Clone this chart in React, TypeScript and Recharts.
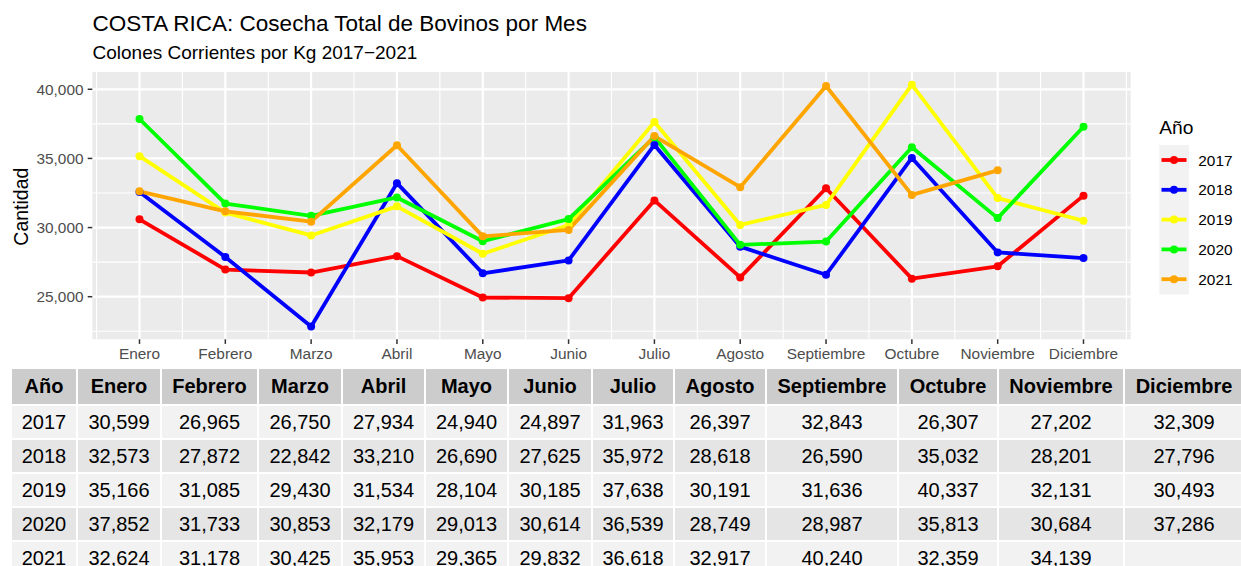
import React from 'react';
import { LineChart, Line, XAxis, YAxis, CartesianGrid, Legend, Label } from 'recharts';

const MONTHS = ['Enero', 'Febrero', 'Marzo', 'Abril', 'Mayo', 'Junio', 'Julio', 'Agosto', 'Septiembre', 'Octubre', 'Noviembre', 'Diciembre'];
const YEARS = ['2017', '2018', '2019', '2020', '2021'];
const V2017 = [30599, 26965, 26750, 27934, 24940, 24897, 31963, 26397, 32843, 26307, 27202, 32309];
const V2018 = [32573, 27872, 22842, 33210, 26690, 27625, 35972, 28618, 26590, 35032, 28201, 27796];
const V2019 = [35166, 31085, 29430, 31534, 28104, 30185, 37638, 30191, 31636, 40337, 32131, 30493];
const V2020 = [37852, 31733, 30853, 32179, 29013, 30614, 36539, 28749, 28987, 35813, 30684, 37286];
const V2021 = [32624, 31178, 30425, 35953, 29365, 29832, 36618, 32917, 40240, 32359, 34139, null];
const COLORS = ['#FF0000', '#0000FF', '#FFFF00', '#00FF00', '#FFA500'];
const Y_TICKS = [25000, 30000, 35000, 40000];
const Y_MINOR = [22500, 27500, 32500, 37500];
const TITLE = 'COSTA RICA: Cosecha Total de Bovinos por Mes';
const SUBTITLE = 'Colones Corrientes por Kg 2017\u22122021';

const VALUES = [V2017, V2018, V2019, V2020, V2021];
const SERIES = YEARS.map((y, i) => ({ key: 'y' + y, name: y, color: COLORS[i], values: VALUES[i] }));

const chartData = MONTHS.map((m, i) => {
  const row: any = { idx: i, mes: m };
  SERIES.forEach((s) => { row[s.key] = s.values[i]; });
  return row;
});

const X_TICKS = MONTHS.map((_, i) => i);
const X_MINOR = [-0.5, ...MONTHS.map((_, i) => i + 0.5)];

const FONT = '"Liberation Sans", Arial, Helvetica, sans-serif';
const fmt = (v: number | null) => (v == null ? '' : v.toLocaleString('en-US'));

const COL_WIDTHS = [64, 82, 95, 82, 81, 81, 82, 80, 90, 130, 98, 124, 118];
const TICK_FONT = 15.4;

const LegendBox = () => (
  <svg width={91} height={200} style={{ display: 'block' }}>
    <text x={9.3} y={34} fontSize={19.2} fill="#000" fontFamily={FONT}>Año</text>
    <rect x={9.3} y={45} width={29.7} height={149.5} fill="#F2F2F2" />
    {SERIES.map((s, i) => {
      const cy = 60 + i * 29.8;
      return (
        <g key={s.key}>
          <line x1={11.5} x2={36.5} y1={cy} y2={cy} stroke={s.color} strokeWidth={3.8} />
          <circle cx={24} cy={cy} r={4} fill={s.color} />
          <text x={48.3} y={cy + 5.5} fontSize={15.4} fill="#000" fontFamily={FONT}>{s.name}</text>
        </g>
      );
    })}
  </svg>
);

const yTitle = (props: any) => {
  const vb = props.viewBox;
  const cx = 28.5;
  const cy = vb.y + vb.height / 2 + 1;
  return (
    <text x={cx} y={cy} transform={`rotate(-90 ${cx} ${cy})`} textAnchor="middle" fontSize={19.5} fill="#000" fontFamily={FONT}>Cantidad</text>
  );
};

const xTitle = (props: any) => {
  const vb = props.viewBox;
  return (
    <text x={vb.x + vb.width / 2} y={vb.y + 42} textAnchor="middle" fontSize={19.5} fill="#000" fontFamily={FONT}>Mes</text>
  );
};

export default function App() {
  return (
    <div style={{ position: 'absolute', left: 0, top: 0, width: 1241, height: 566, background: '#fff', overflow: 'hidden', fontFamily: FONT }}>
      <svg width={1241} height={70} style={{ position: 'absolute', left: 0, top: 0 }}>
        <text x={92.5} y={30.5} fontSize={22.5} fill="#000" fontFamily={FONT}>{TITLE}</text>
        <text x={92.5} y={58.5} fontSize={19} fill="#000" fontFamily={FONT}>{SUBTITLE}</text>
      </svg>
      <div style={{ position: 'absolute', left: 0, top: 0 }}>
        <LineChart width={1241} height={400} data={chartData} margin={{ top: 72, right: 110.3, left: 0, bottom: 30.7 }}>
          <CartesianGrid fill="#EBEBEB" stroke="#FFFFFF" strokeWidth={1.1} horizontalValues={Y_MINOR} verticalValues={X_MINOR} />
          <CartesianGrid fill="none" stroke="#FFFFFF" strokeWidth={2.2} horizontalValues={Y_TICKS} verticalValues={X_TICKS} />
          <XAxis
            dataKey="idx"
            type="number"
            domain={[-0.55, 11.55]}
            ticks={X_TICKS}
            interval={0}
            allowDataOverflow
            tickFormatter={(v: number) => MONTHS[v]}
            axisLine={false}
            tickLine={{ stroke: '#333333', strokeWidth: 1.5 }}
            tickSize={4.6}
            tickMargin={4}
            height={30}
            tick={{ fill: '#4D4D4D', fontSize: TICK_FONT, fontFamily: FONT }}
          >
            <Label content={xTitle} />
          </XAxis>
          <YAxis
            type="number"
            domain={[21920, 41250]}
            ticks={Y_TICKS}
            allowDataOverflow
            tickFormatter={(v: number) => v.toLocaleString('en-US')}
            axisLine={false}
            tickLine={{ stroke: '#333333', strokeWidth: 1.5 }}
            tickSize={4.6}
            tickMargin={4.2}
            width={92.3}
            tick={{ fill: '#4D4D4D', fontSize: TICK_FONT, fontFamily: FONT }}
          >
            <Label content={yTitle} />
          </YAxis>
          {SERIES.map((s) => (
            <Line
              key={'l' + s.key}
              type="linear"
              dataKey={s.key}
              name={s.name}
              stroke={s.color}
              strokeWidth={3.8}
              strokeLinejoin="round"
              dot={false}
              activeDot={false}
              legendType="none"
              isAnimationActive={false}
            />
          ))}
          {SERIES.map((s) => (
            <Line
              key={'p' + s.key}
              type="linear"
              dataKey={s.key}
              stroke="none"
              dot={{ r: 4, fill: s.color, stroke: 'none' }}
              activeDot={false}
              legendType="none"
              isAnimationActive={false}
            />
          ))}
          <Legend
            layout="horizontal"
            verticalAlign="middle"
            align="center"
            width={91}
            height={200}
            content={() => <LegendBox />}
            wrapperStyle={{ left: 1150, top: 100, width: 91, height: 200 }}
          />
        </LineChart>
      </div>
      <table
        style={{
          position: 'absolute',
          left: 10,
          top: 367.3,
          borderCollapse: 'separate',
          borderSpacing: 2,
          tableLayout: 'fixed',
          width: 1235,
          fontFamily: FONT,
          fontSize: 20,
          color: '#000',
          background: '#fff',
        }}
      >
        <colgroup>
          {COL_WIDTHS.map((w, i) => <col key={i} style={{ width: w }} />)}
        </colgroup>
        <thead>
          <tr>
            {['Año', ...MONTHS].map((h) => (
              <th key={h} style={{ background: '#CCCCCC', height: 35, padding: 0, fontWeight: 'bold', textAlign: 'center', whiteSpace: 'nowrap' }}>{h}</th>
            ))}
          </tr>
        </thead>
        <tbody>
          {SERIES.map((s, r) => (
            <tr key={s.key}>
              {[s.name, ...s.values.map(fmt)].map((c, i) => (
                <td key={i} style={{ background: r % 2 === 0 ? '#F2F2F2' : '#E5E5E5', height: 32, padding: 0, textAlign: 'center', whiteSpace: 'nowrap' }}>{c}</td>
              ))}
            </tr>
          ))}
        </tbody>
      </table>
    </div>
  );
}
